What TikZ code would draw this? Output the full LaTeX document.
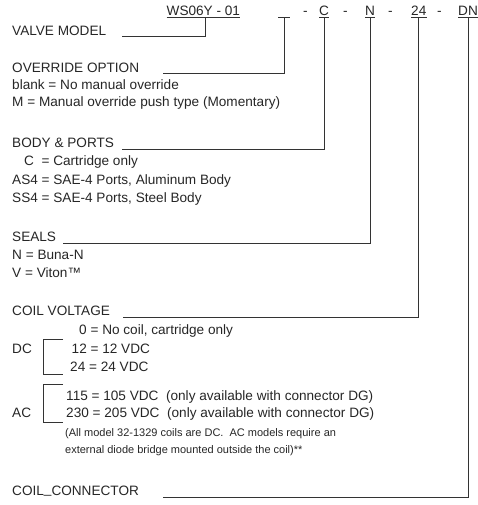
\documentclass[tikz,border=0pt]{standalone}
\usepackage{fontspec}
\setmainfont{Liberation Sans}
\usetikzlibrary{calc}
\begin{document}
\begin{tikzpicture}[x=1pt,y=-1pt,
  txt/.style={anchor=base west,inner sep=0pt,font=\fontsize{13.6}{16}\selectfont,text=black!85},
  small/.style={anchor=base west,inner sep=0pt,font=\fontsize{11}{13}\selectfont,text=black!85},
  ln/.style={line width=1pt,draw=black!80}]
\useasboundingbox (0,0) rectangle (477,505);
% header codes
\node[txt] (ws) at (166.5,15.5) {WS06Y - 01};
\node[txt] (d1) at (303,15.5) {-};
\node[txt] (cc) at (319,15.5) {C};
\node[txt] (d2) at (343,15.5) {-};
\node[txt] (nn) at (365,15.5) {N};
\node[txt] (d3) at (388,15.5) {-};
\node[txt] (tf) at (411,15.5) {24};
\node[txt] (d4) at (437,15.5) {-};
\node[txt] (dn) at (458,15.5) {DN};
% underlines
\draw[ln] ([yshift=-2.5pt]ws.base west) -- ([yshift=-2.5pt]ws.base east);
\coordinate (bl-w) at (278,18);
\coordinate (bl-e) at (290,18);
\draw[ln] (bl-w) -- (bl-e);
\draw[ln] ([yshift=-2.5pt]cc.base west) -- ([yshift=-2.5pt]cc.base east);
\draw[ln] ([yshift=-2.5pt]nn.base west) -- ([yshift=-2.5pt]nn.base east);
\draw[ln] ([yshift=-2.5pt]tf.base west) -- ([yshift=-2.5pt]tf.base east);
\draw[ln] ([yshift=-2.5pt]dn.base west) -- ([yshift=-2.5pt]dn.base east);
% labels
\node[txt] (vm) at (12,35.5) {VALVE MODEL};
\node[txt] (ov) at (12,72.7) {OVERRIDE OPTION};
\node[txt] (ov1) at (12,90) {blank = No manual override};
\node[txt] (ov2) at (12,107) {M = Manual override push type (Momentary)};
\node[txt] (bp) at (12,147.5) {BODY \& PORTS};
\node[txt] (bp1) at (24,165.5) {C\ \ = Cartridge only};
\node[txt] (bp2) at (12,184) {AS4 = SAE-4 Ports, Aluminum Body};
\node[txt] (bp3) at (12,202.5) {SS4 = SAE-4 Ports, Steel Body};
\node[txt] (se) at (12,241) {SEALS};
\node[txt] (se1) at (12,259.5) {N = Buna-N};
\node[txt] (se2) at (12,277.5) {V = Viton™};
\node[txt] (cv) at (12,315.5) {COIL VOLTAGE};
\node[txt] (cv0) at (79,334.5) {0 = No coil, cartridge only};
\node[txt] (dc) at (12,353) {DC};
\node[txt] (cv1) at (71.5,353) {12 = 12 VDC};
\node[txt] (cv2) at (70,371) {24 = 24 VDC};
\node[txt] (cv3) at (66,400) {115 = 105 VDC\ \ (only available with connector DG)};
\node[txt] (ac) at (12,417.5) {AC};
\node[txt] (cv4) at (66,417.5) {230 = 205 VDC\ \ (only available with connector DG)};
\node[small] (nt1) at (65,436) {(All model 32-1329 coils are DC.\ \ AC models require an};
\node[small] (nt2) at (65,453.5) {external diode bridge mounted outside the coil)**};
\node[txt] (co) at (12,495) {COIL\raisebox{2pt}{\_}CONNECTOR};
% line ends
\coordinate (vm-e) at (122,37);
\coordinate (ov-e) at (163,74);
\coordinate (bp-e) at (122,150);
\coordinate (se-e) at (63,243.5);
\coordinate (cv-e) at (123,317);
\coordinate (co-e) at (163,497);
% connectors
\draw[ln] ([xshift=2pt,yshift=-2.5pt]ws.base) |- (vm-e);
\draw[ln] ($(bl-w)!0.5!(bl-e)$) |- (ov-e);
\draw[ln] ([yshift=-2.5pt]cc.base) |- (bp-e);
\draw[ln] ([yshift=-2.5pt]nn.base) |- (se-e);
\draw[ln] ([yshift=-2.5pt]tf.base) |- (cv-e);
\draw[ln] ([yshift=-2.5pt]dn.base) |- (co-e);
% brackets
\coordinate (dcb-t) at (63,339);
\coordinate (dcb-b) at (63,374);
\draw[ln] (dcb-t) -- (43,339) -- (43,374) -- (dcb-b);
\coordinate (acb-t) at (63,384);
\coordinate (acb-b) at (63,422);
\draw[ln] (acb-t) -- (43,384) -- (43,422) -- (acb-b);
\end{tikzpicture}
\end{document}
